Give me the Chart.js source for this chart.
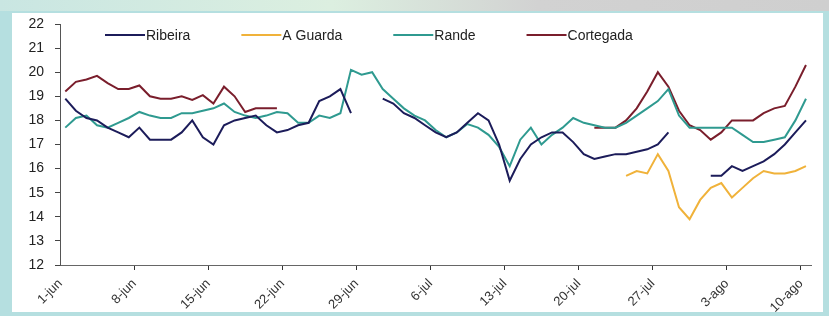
<!DOCTYPE html>
<html>
<head>
<meta charset="utf-8">
<script src="https://cdn.jsdelivr.net/npm/chart.js@4/dist/chart.umd.min.js"></script>
<style>
    html, body { margin: 0; padding: 0; }
    body { width: 829px; height: 316px; background: #b5dfe0; position: relative; overflow: hidden; }
    #topband { position: absolute; left: 0; top: 0; width: 829px; height: 11px; background: linear-gradient(90deg, #c9e6e2 0%, #dcefe0 40%, #d2d2d2 65%, #cfcfcf 100%); }
    #box { position: absolute; left: 12px; top: 13px; width: 811px; height: 299px; background: #fff; }
</style>
</head>
<body>
<div id="topband"></div>
<div id="box"><canvas id="tempChart" width="811" height="299"></canvas></div>
<script>
// Day categories: 1-jun .. 10-ago
const months = [['jun', 30], ['jul', 31], ['ago', 10]];
const days = [];
months.forEach(([m, n]) => {
    for (let d = 1; d <= n; d++) days.push(d + '-' + m);
});

const yTicks = [12, 13, 14, 15, 16, 17, 18, 19, 20, 21, 22];

const ribeira = [
    18.9, 18.4, 18.1, 18.0, 17.7, 17.5, 17.3, 17.7, 17.2, 17.2,
    17.2, 17.5, 18.0, 17.3, 17.0, 17.8, 18.0, 18.1, 18.2, 17.8,
    17.5, 17.6, 17.8, 17.9, 18.8, 19.0, 19.3, 18.3, null, null,
    18.9, 18.7, 18.3, 18.1, 17.8, 17.5, 17.3, 17.5, 17.9, 18.3,
    18.0, 17.0, 15.5, 16.4, 17.0, 17.3, 17.5, 17.5, 17.1, 16.6,
    16.4, 16.5, 16.6, 16.6, 16.7, 16.8, 17.0, 17.5, null, null,
    null, 15.7, 15.7, 16.1, 15.9, 16.1, 16.3, 16.6, 17.0, 17.5, 18.0
];

const aGuarda = [
    null, null, null, null, null, null, null, null, null, null,
    null, null, null, null, null, null, null, null, null, null,
    null, null, null, null, null, null, null, null, null, null,
    null, null, null, null, null, null, null, null, null, null,
    null, null, null, null, null, null, null, null, null, null,
    null, null, null, 15.7, 15.9, 15.8, 16.6, 15.9, 14.4, 13.9,
    14.7, 15.2, 15.4, 14.8, 15.2, 15.6, 15.9, 15.8, 15.8, 15.9, 16.1
];

const rande = [
    17.7, 18.1, 18.2, 17.8, 17.7, 17.9, 18.1, 18.35, 18.2, 18.1,
    18.1, 18.3, 18.3, 18.4, 18.5, 18.7, 18.35, 18.2, 18.1, 18.2,
    18.35, 18.3, 17.9, 17.9, 18.2, 18.1, 18.3, 20.1, 19.9, 20.0,
    19.3, 18.9, 18.5, 18.2, 18.0, 17.6, 17.3, 17.5, 17.85, 17.7,
    17.4, 16.9, 16.1, 17.2, 17.7, 17.0, 17.4, 17.7, 18.1, 17.9,
    17.8, 17.7, 17.7, 17.9, 18.2, 18.5, 18.8, 19.3, 18.2, 17.7,
    17.7, 17.7, 17.7, 17.7, 17.4, 17.1, 17.1, 17.2, 17.3, 18.0, 18.9
];

const cortegada = [
    19.2, 19.6, 19.7, 19.85, 19.55, 19.3, 19.3, 19.45, 19.0, 18.9,
    18.9, 19.0, 18.85, 19.05, 18.7, 19.4, 19.0, 18.35, 18.5, 18.5,
    18.5, null, null, null, null, null, null, null, null, null,
    null, null, null, null, null, null, null, null, null, null,
    null, null, null, null, null, null, null, null, null, null,
    17.7, 17.7, 17.7, 18.0, 18.5, 19.2, 20.0, 19.4, 18.4, 17.8,
    17.6, 17.2, 17.5, 18.0, 18.0, 18.0, 18.3, 18.5, 18.6, 19.4, 20.3
];

const seriesNames = ['Ribeira', 'A Guarda', 'Rande', 'Cortegada'];
const seriesColors = ['#1c1c5a', '#f0b23a', '#2f9a90', '#7a1e2c'];
const seriesData = [ribeira, aGuarda, rande, cortegada];

const FONT = '"Liberation Sans", Arial, sans-serif';

// legend drawn inside the plot area, like the original sheet chart
const insideLegend = {
    id: 'insideLegend',
    afterDatasetsDraw(chart) {
        const ctx = chart.ctx;
        const area = chart.chartArea;
        let x = area.left + 45;
        const y = area.top + 11;
        ctx.save();
        ctx.font = '14px ' + FONT;
        ctx.textBaseline = 'middle';
        ctx.textAlign = 'left';
        chart.data.datasets.forEach(ds => {
            ctx.strokeStyle = ds.borderColor;
            ctx.lineWidth = 2;
            ctx.beginPath();
            ctx.moveTo(x, y);
            ctx.lineTo(x + 40, y);
            ctx.stroke();
            ctx.fillStyle = '#222';
            ctx.fillText(ds.label, x + 41, y + 1);
            x += 41 + ctx.measureText(ds.label).width + 51;
        });
        ctx.restore();
    }
};

new Chart(document.getElementById('tempChart').getContext('2d'), {
    type: 'line',
    data: {
        labels: days,
        datasets: seriesData.map((d, i) => ({
            label: seriesNames[i],
            data: d,
            borderColor: seriesColors[i],
            backgroundColor: seriesColors[i],
            borderWidth: 2,
            pointRadius: 0,
            tension: 0,
            spanGaps: false
        }))
    },
    options: {
        responsive: false,
        animation: false,
        layout: { padding: { top: 11, right: 0, left: 0, bottom: 0 } },
        plugins: {
            legend: { display: false },
            tooltip: { enabled: false }
        },
        scales: {
            x: {
                offset: true,
                afterFit: scale => { scale.height = 47; },
                border: { color: '#666', width: 1 },
                grid: {
                    offset: true,
                    drawOnChartArea: false,
                    tickLength: 5,
                    tickColor: c => (c.index % 7 === 0 && c.index > 0) ? '#333' : 'rgba(0,0,0,0)'
                },
                ticks: {
                    autoSkip: false,
                    maxRotation: 45,
                    minRotation: 45,
                    padding: 6,
                    labelOffset: -5,
                    color: '#333',
                    font: { family: FONT, size: 13 },
                    callback: function (value, index) {
                        return index % 7 === 0 ? days[index] : '';
                    }
                }
            },
            y: {
                min: yTicks[0],
                max: yTicks[yTicks.length - 1],
                afterFit: scale => {
                    scale.width = 48;
                    scale.paddingTop = 0;
                    scale.paddingBottom = 0;
                },
                border: { color: '#555', width: 1 },
                grid: { drawOnChartArea: false, tickLength: 5, tickColor: '#444' },
                ticks: {
                    stepSize: 1,
                    padding: 11,
                    color: '#222',
                    font: { family: FONT, size: 14 }
                }
            }
        }
    },
    plugins: [insideLegend]
});
</script>
</body>
</html>
